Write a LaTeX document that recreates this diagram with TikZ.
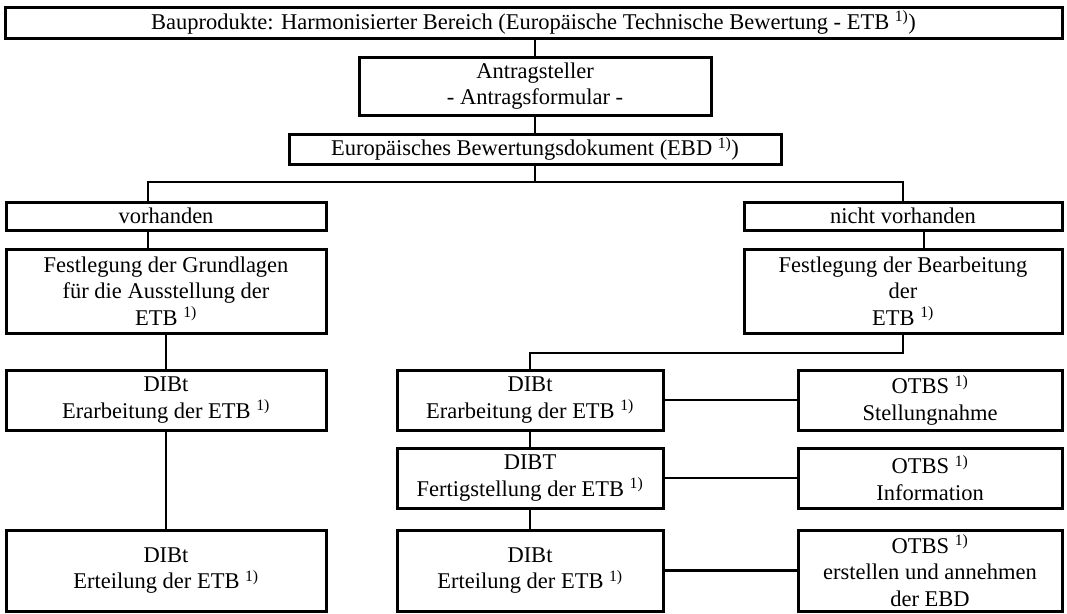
\documentclass[tikz,border=0pt]{standalone}
\usepackage{fontspec}
\setmainfont{Liberation Serif}
\usepackage{tikz}
\usetikzlibrary{calc}
\newcommand{\fnote}{\textsuperscript{1)}}
\tikzset{
    box/.style      ={rectangle, draw=black, line width=3pt, align=center, inner sep=0pt, text centered},
    leftcol/.style  ={box, minimum width=320pt},
    midcol/.style   ={box, minimum width=266pt},
    rightcol/.style ={box, minimum width=264pt},
    link/.style     ={line width=2.7pt, line cap=rect},
}

\begin{document}
\begin{tikzpicture}[x=1pt, y=-1pt, every node/.style={font=\fontsize{22.5}{26.5}\selectfont}]
        \useasboundingbox (0,0) rectangle (1067,613);
        % head
        \node[box, minimum width=1057pt, minimum height=31pt] (head) at (533.5,22.5) {Bauprodukte: Harmonisierter Bereich (Europ\"aische Technische Bewertung - ETB \fnote)};
        \node[box, minimum width=352pt, minimum height=58pt] (antrag) at (535,86) {Antragsteller\\ - Antragsformular -};
        \node[box, minimum width=492pt, minimum height=30pt] (ebd) at (535,149) {Europ\"aisches Bewertungsdokument (EBD \fnote)};
        % branches
        \node[leftcol, minimum height=28pt] (vor) at (166,216) {vorhanden};
        \node[box, minimum width=318pt, minimum height=28pt] (nvor) at (903,216) {nicht vorhanden};
        \node[leftcol, minimum height=84pt] (grund) at (166,291) {Festlegung der Grundlagen\\ f\"ur die Ausstellung der\\ ETB \fnote};
        \node[box, minimum width=318pt, minimum height=84pt] (bearb) at (903,291) {Festlegung der Bearbeitung\\ der\\ ETB \fnote};
        % left column
        \node[leftcol, minimum height=60pt] (erarbL) at (166,400) {DIBt\\ Erarbeitung der ETB \fnote};
        \node[leftcol, minimum height=81pt] (erteilL) at (166,570.5) {DIBt\\ Erteilung der ETB \fnote};
        % middle column
        \node[midcol, minimum height=60pt] (erarbM) at (530,400) {DIBt\\ Erarbeitung der ETB \fnote};
        \node[midcol, minimum height=60pt] (fertig) at (530,478) {DIBT\\ Fertigstellung der ETB \fnote};
        \node[midcol, minimum height=81pt] (erteilM) at (530,570.5) {DIBt\\ Erteilung der ETB \fnote};
        % OTBS column
        \node[rightcol, minimum height=60pt] (stell) at (930,400) {OTBS \fnote\\ Stellungnahme};
        \node[rightcol, minimum height=60pt] (info) at (930,478) {OTBS \fnote\\ Information};
        \node[rightcol, minimum height=81pt] (erst) at (930,570.5) {OTBS \fnote\\ erstellen und annehmen\\ der EBD};

        \coordinate (splitL) at (148,182);
        \coordinate (splitR) at (903,182);
        \coordinate (bearbR) at (924,0);
        \coordinate (join) at (530,353);

        % connectors
        \draw[link] (antrag.north) -- (antrag.north |- head.south);
        \draw[link] (antrag.south) -- (ebd.north);
        \draw[link] (ebd.south) -- (ebd.south |- splitL);
        \draw[link] (vor.north -| splitL) |- (splitR) -- (nvor.north -| splitR);
        \draw[link] (vor.south -| splitL) -- (grund.north -| splitL);
        \draw[link] (nvor.south -| bearbR) -- (bearb.north -| bearbR);
        \draw[link] (grund.south) -- (erarbL.north);
        \draw[link] (erarbL.south) -- (erteilL.north);
        \draw[link] (bearb.south -| splitR) |- (join) -- (erarbM.north);
        \draw[link] (erarbM.south) -- (fertig.north);
        \draw[link] (fertig.south) -- (erteilM.north);
        \draw[link] (erarbM.east) -- (stell.west);
        \draw[link] (fertig.east) -- (info.west);
        \draw[link] (erteilM.east) -- (erst.west);
    \end{tikzpicture}
\end{document}
